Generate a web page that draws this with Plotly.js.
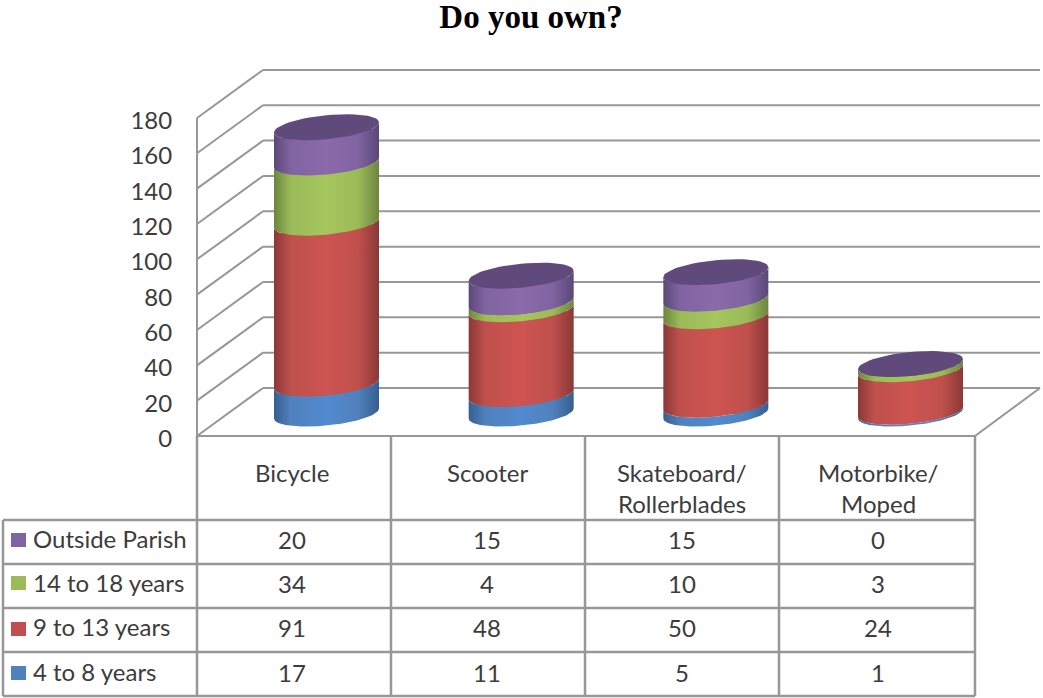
<!DOCTYPE html>
<html>
<head>
<meta charset="utf-8">
<script src="https://cdn.plot.ly/plotly-3.0.1.min.js"></script>
<style>html,body{margin:0;padding:0;background:#fff}#chart{width:1043px;height:698px}</style>
</head>
<body>
<div id="chart"></div>
<script>
// ---- data ----
var categories = ['Bicycle', 'Scooter', 'Skateboard/ Rollerblades', 'Motorbike/ Moped'];
var categoryLines = [['Bicycle'], ['Scooter'], ['Skateboard/', 'Rollerblades'], ['Motorbike/', 'Moped']];
var outsideParish = [20, 15, 15, 0];
var age14to18 = [34, 4, 10, 3];
var age9to13 = [91, 48, 50, 24];
var age4to8 = [17, 11, 5, 1];
var yTicks = [0, 20, 40, 60, 80, 100, 120, 140, 160, 180];

// ---- stack order, bottom first ----
var series = [
  {name: '4 to 8 years', values: age4to8, color: '#4f81bd', edge: '#365f90', mid: '#5289cf'},
  {name: '9 to 13 years', values: age9to13, color: '#c0504d', edge: '#8a3937', mid: '#cd5451'},
  {name: '14 to 18 years', values: age14to18, color: '#9bbb59', edge: '#6c863e', mid: '#a5c55e'},
  {name: 'Outside Parish', values: outsideParish, color: '#8064a2', edge: '#5b4877', mid: '#8b6aaa'}
];

// ---- page geometry (pixels) ----
var W = 1043, H = 698;
var unit = 1.767, baseY = 413.5, firstX = 326.5, stepX = 194.67;
var radius = 52.5 / stepX, barWidth = 0.46;
var frontDrop = 22.5 / unit, backRise = 25.5 / unit;
var GRID = '#979797', TEXT = '#3c3c3c', FONT = 'Lato, sans-serif', FONT_SIZE = 24;
function px(x) { return x / W; }
function py(y) { return 1 - y / H; }

function rim(cat, level, fromT, toT) {
  var xs = [], ys = [], n = 56;
  for (var k = 0; k <= n; k++) {
    var t = fromT + (toT - fromT) * k / n;
    xs.push(cat + radius * Math.cos(t));
    ys.push(level + (5 * Math.cos(t) + 12 * Math.sin(t)) / unit);
  }
  return {x: xs, y: ys};
}

var traces = [];
// stacked columns
series.forEach(function (s) {
  traces.push({
    type: 'bar', name: s.name, x: [0, 1, 2, 3], y: s.values, width: barWidth,
    marker: {color: s.color, line: {width: 0}}, customdata: categories,
    hovertemplate: '%{customdata}<br>' + s.name + ': %{y}<extra></extra>'
  });
});
// round faces of the columns
categories.forEach(function (c, i) {
  var level = 0;
  series.forEach(function (s) {
    var next = level + s.values[i];
    if (s.values[i] > 0) {
      var low = rim(i, level, Math.PI, 2 * Math.PI);
      var high = rim(i, next, 2 * Math.PI, Math.PI);
      traces.push({
        type: 'scatter', mode: 'lines', fill: 'toself', hoverinfo: 'skip', showlegend: false,
        x: low.x.concat(high.x, [low.x[0]]), y: low.y.concat(high.y, [low.y[0]]),
        line: {width: 0, color: s.color},
        fillgradient: {
          type: 'horizontal', start: i - radius, stop: i + radius,
          colorscale: [[0, s.edge], [0.16, s.color], [0.5, s.mid], [0.8, s.color], [1, s.edge]]
        }
      });
    }
    level = next;
  });
  var top = rim(i, level, 0, 2 * Math.PI);
  traces.push({
    type: 'scatter', mode: 'lines', fill: 'toself', hoverinfo: 'skip', showlegend: false,
    x: top.x, y: top.y, line: {width: 0, color: '#604a7b'}, fillcolor: '#604a7b'
  });
});
// carrier of the value axis
traces.push({type: 'scatter', mode: 'none', x: [0], y: [0], xaxis: 'x', yaxis: 'y2', hoverinfo: 'skip', showlegend: false});

// ---- walls ----
var shapes = [];
function gridLine(x0, y0, x1, y1) {
  shapes.push({type: 'line', xref: 'paper', yref: 'y', x0: px(x0), x1: px(x1), y0: y0, y1: y1,
    line: {color: GRID, width: 2}, layer: 'below'});
}
yTicks.forEach(function (v) {
  gridLine(197, v - frontDrop, 263, v + backRise);
  gridLine(263, v + backRise, 1040, v + backRise);
});
gridLine(197, -frontDrop, 975, -frontDrop);
gridLine(975, -frontDrop, 1040, backRise);
gridLine(197, -frontDrop, 197, 180 - frontDrop);

// ---- data table ----
function tableLine(x0, y0, x1, y1) {
  shapes.push({type: 'line', xref: 'paper', yref: 'paper', x0: px(x0), x1: px(x1), y0: py(y0), y1: py(y1),
    line: {color: GRID, width: 2.5}, layer: 'below'});
}
[197, 391, 585, 779, 975].forEach(function (x) { tableLine(x, 436, x, 696); });
tableLine(3, 520, 3, 696);
[520, 564, 608, 652, 696].forEach(function (y) { tableLine(3, y, 975, y); });

var annotations = [];
function label(text, x, y, anchor) {
  annotations.push({text: text, xref: 'paper', yref: 'paper', x: px(x), y: py(y), showarrow: false,
    xanchor: anchor || 'center', yanchor: 'middle', font: {family: FONT, size: FONT_SIZE, color: TEXT}});
}
var columnCentres = [292, 487, 682, 878];
categoryLines.forEach(function (lines, i) {
  lines.forEach(function (t, j) { label(t, columnCentres[i], 472 + 31 * j); });
});
var rowCentres = [672, 627, 583, 539];
var swatchTops = [666, 622, 576, 533];
series.forEach(function (s, r) {
  shapes.push({type: 'rect', xref: 'paper', yref: 'paper', x0: px(11), x1: px(26),
    y0: py(swatchTops[r]), y1: py(swatchTops[r] + 14), fillcolor: s.color, line: {width: 0}});
  label(s.name, 31, rowCentres[r] - 1, 'left');
  s.values.forEach(function (v, i) { label(String(v), columnCentres[i], rowCentres[r]); });
});

var layout = {
  width: W, height: H, margin: {l: 0, r: 0, t: 0, b: 0}, autosize: false,
  paper_bgcolor: '#fff', plot_bgcolor: 'rgba(0,0,0,0)', showlegend: false,
  barmode: 'stack',
  title: {text: '<b>Do you own?</b>', x: 531 / W, xanchor: 'center', y: 1 - 16 / H, yanchor: 'middle',
    font: {family: '"Liberation Serif", serif', size: 33, color: '#000'}},
  xaxis: {domain: [0, 1], range: [-firstX / stepX, (W - firstX) / stepX], visible: false, fixedrange: true},
  yaxis: {domain: [0, 1], range: [(baseY - H) / unit, baseY / unit], visible: false, fixedrange: true},
  yaxis2: {
    domain: [py(438.5), py(120.5)], range: [0, 180], anchor: 'free', position: px(197), side: 'left',
    tickvals: yTicks, ticks: 'outside', ticklen: 20, tickcolor: 'rgba(0,0,0,0)', showgrid: false, zeroline: false, fixedrange: true,
    showline: false,
    tickfont: {family: FONT, size: FONT_SIZE, color: TEXT}
  },
  shapes: shapes, annotations: annotations
};
Plotly.newPlot('chart', traces, layout, {displayModeBar: false, responsive: false});
</script>
</body>
</html>
